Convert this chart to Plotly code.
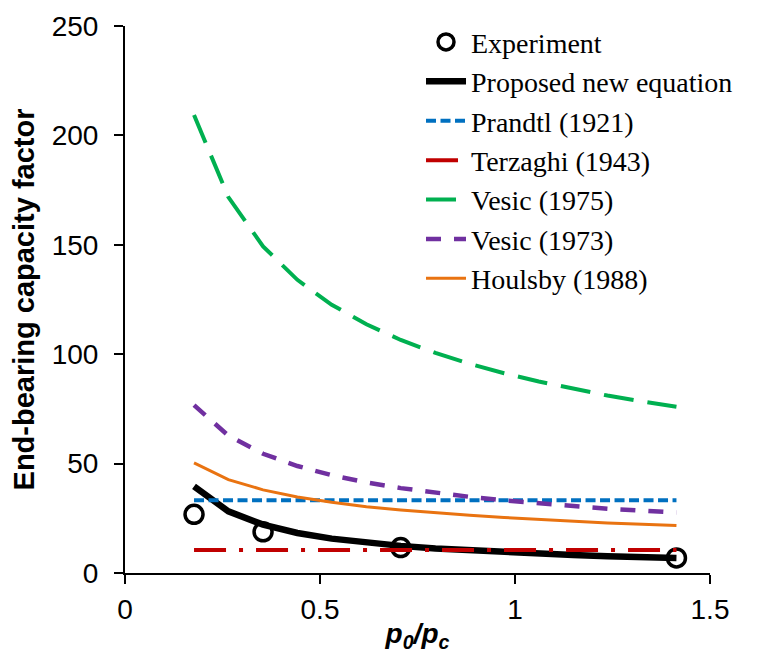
import plotly.graph_objects as go

# ---- data ----
exp_x = [0.177, 0.354, 0.707, 1.414]
exp_y = [26.8, 18.8, 11.6, 6.9]

curve_x = [0.177, 0.265, 0.354, 0.442, 0.530, 0.619, 0.707, 0.796,
           0.884, 0.972, 1.061, 1.149, 1.237, 1.326, 1.414]
proposed_y = [39.6, 28.2, 22.1, 18.3, 15.7, 13.8, 12.4, 11.2,
              10.3, 9.5, 8.8, 8.2, 7.7, 7.3, 6.9]
prandtl_y = [33.2] * 15
terzaghi_y = [10.5] * 15
vesic1975_y = [209.3, 171.8, 149.3, 134.0, 122.6, 113.7, 106.5, 100.6,
               95.6, 91.3, 87.5, 84.1, 81.1, 78.4, 76.0]
vesic1973_y = [76.7, 62.8, 54.5, 48.9, 44.7, 41.4, 38.8, 36.6,
               34.8, 33.2, 31.8, 30.5, 29.4, 28.5, 27.6]
houlsby_y = [50.3, 42.7, 38.0, 34.7, 32.3, 30.3, 28.8, 27.5,
             26.4, 25.4, 24.5, 23.7, 22.9, 22.3, 21.7]

x_tickvals = [0, 0.5, 1, 1.5]
x_ticktext = ["0", "0.5", "1", "1.5"]
y_tickvals = [0, 50, 100, 150, 200, 250]

fig = go.Figure()

fig.add_trace(go.Scatter(x=exp_x, y=exp_y, mode="markers", name="Experiment",
                         marker=dict(symbol="circle-open", size=18, color="black",
                                     line=dict(width=3.5, color="black"))))
fig.add_trace(go.Scatter(x=curve_x, y=proposed_y, mode="lines", name="Proposed new equation",
                         line=dict(color="black", width=6.5)))
fig.add_trace(go.Scatter(x=curve_x, y=prandtl_y, mode="lines", name="Prandtl (1921)",
                         line=dict(color="#0070C0", width=4, dash="10px,4.5px")))
fig.add_trace(go.Scatter(x=curve_x, y=terzaghi_y, mode="lines", name="Terzaghi (1943)",
                         line=dict(color="#C00000", width=4, dash="32px,13px,4px,13px")))
fig.add_trace(go.Scatter(x=curve_x, y=vesic1975_y, mode="lines", name="Vesic (1975)",
                         line=dict(color="#00B050", width=4, dash="30px,14px")))
fig.add_trace(go.Scatter(x=curve_x, y=vesic1973_y, mode="lines", name="Vesic (1973)",
                         line=dict(color="#7030A0", width=4.5, dash="15px,13px")))
fig.add_trace(go.Scatter(x=curve_x, y=houlsby_y, mode="lines", name="Houlsby (1988)",
                         line=dict(color="#E97311", width=3)))

axis_common = dict(showline=True, linecolor="black", linewidth=2, ticks="outside",
                   ticklen=9, tickwidth=2, tickcolor="black", showgrid=False,
                   zeroline=False, mirror=False,
                   tickfont=dict(family="Liberation Sans, Arial", size=28, color="black"))

fig.update_xaxes(range=[0, 1.5], tickvals=x_tickvals, ticktext=x_ticktext,
                 ticklabelstandoff=1,
                 title=dict(text="<b><i>p<sub>0</sub>/p<sub>c</sub></i></b>",
                            font=dict(family="Liberation Sans, Arial", size=28, color="black"),
                            standoff=0),
                 **axis_common)
fig.update_yaxes(range=[0, 250], tickvals=y_tickvals, ticklabelstandoff=10,
                 title=dict(text="<b>End-bearing capacity factor</b>",
                            font=dict(family="Liberation Sans, Arial", size=29, color="black"),
                            standoff=10),
                 **axis_common)

# the page body adds an 8px margin, so the figure is 8px smaller
fig.update_layout(
    width=750, height=646,
    margin=dict(l=117, r=48, t=18, b=81, autoexpand=False),
    plot_bgcolor="white", paper_bgcolor="white",
    showlegend=True,
    legend=dict(x=0.506, y=1.016, xanchor="left", yanchor="top",
                bgcolor="rgba(0,0,0,0)", borderwidth=0, tracegroupgap=0,
                itemwidth=40,
                font=dict(family="Liberation Serif, Times New Roman", size=28, color="black")),
)

fig.write_html("out.html")
